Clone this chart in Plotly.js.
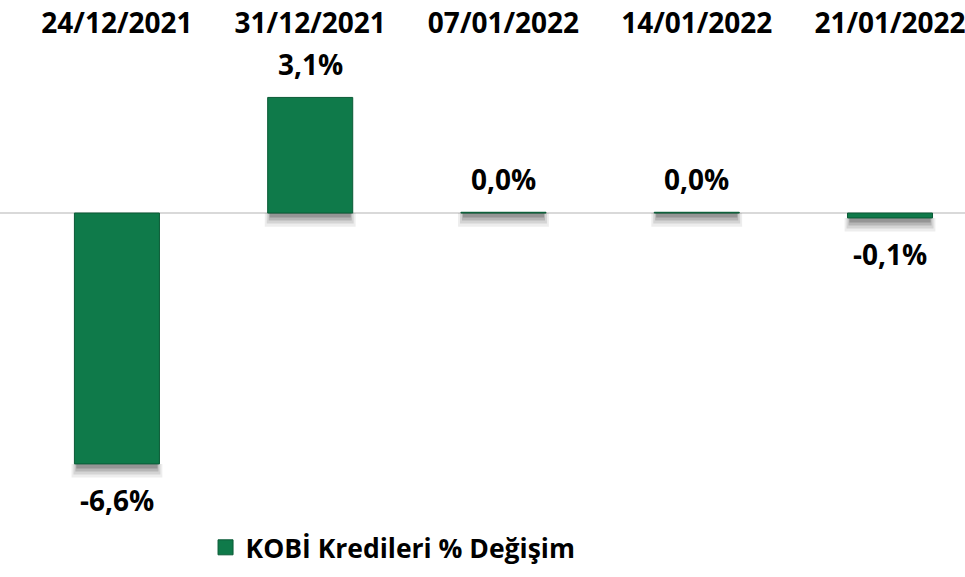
<!DOCTYPE html>
<html>
<head>
<meta charset="utf-8">
<script src="https://cdn.plot.ly/plotly-3.0.1.min.js"></script>
<style>
html,body{margin:0;padding:0;background:#fff;}
#chart{width:965px;height:577px;}
</style>
</head>
<body>
<div id="chart"></div>
<script>
const categories = ['24/12/2021', '31/12/2021', '07/01/2022', '14/01/2022', '21/01/2022'];
const values = [-6.64, 3.06, 0.02, 0.02, -0.13];
const seriesName = 'KOBİ Kredileri % Değişim';

const labels = values.map(v => v.toFixed(1).replace('.', ',') + '%');
const FONT = 'Open Sans, Noto Sans, sans-serif';
const BAR_W = 0.44;
const GREEN = '#0F7A4A';
const GREEN_EDGE = '#0A5A36';

// soft drop shadow under each bar, built from the same values (style only)
const shadowLayers = [
  {depth: 0.36, width: 0.47, opacity: 0.07},
  {depth: 0.28, width: 0.45, opacity: 0.10},
  {depth: 0.20, width: 0.43, opacity: 0.14},
  {depth: 0.12, width: 0.42, opacity: 0.18}
];
const shadowTraces = shadowLayers.map(s => ({
  type: 'bar',
  x: categories,
  base: values.map(v => Math.min(v, 0)),
  y: values.map(() => -s.depth),
  width: s.width,
  marker: {color: '#000', opacity: s.opacity, line: {width: 0}},
  hoverinfo: 'skip',
  showlegend: false
}));

const mainTrace = {
  type: 'bar',
  x: categories,
  y: values,
  width: BAR_W,
  name: seriesName,
  marker: {color: GREEN, line: {color: GREEN_EDGE, width: 1}},
  hoverinfo: 'skip',
  showlegend: false
};

// legend entry only (no data drawn)
const legendTrace = {
  type: 'scatter', mode: 'markers',
  x: [null], y: [null],
  name: seriesName,
  marker: {symbol: 'square', size: 15, color: GREEN, line: {color: GREEN_EDGE, width: 1}},
  hoverinfo: 'skip',
  showlegend: true
};

const annotations = categories.map((c, i) => ({
  x: c, y: values[i], xref: 'x', yref: 'y',
  text: labels[i], showarrow: false,
  yanchor: 'middle',
  yshift: values[i] < 0 ? -36 : 33,
  font: {family: FONT, size: 28, color: '#000', weight: 700}
}));

const layout = {
  width: 965, height: 577,
  margin: {l: 0, r: 0, t: 40, b: 67, pad: 0},
  paper_bgcolor: '#fff', plot_bgcolor: '#fff',
  barmode: 'overlay',
  xaxis: {
    type: 'category', side: 'top',
    range: [-0.605, 4.388],
    showgrid: false, showline: false, zeroline: false, ticks: '',
    tickfont: {family: FONT, size: 28, color: '#000', weight: 700},
    fixedrange: true
  },
  yaxis: {
    range: [-7.86, 4.58],
    showgrid: false, showticklabels: false, ticks: '', showline: false,
    zeroline: true, zerolinecolor: '#D9D9D9', zerolinewidth: 1.5,
    fixedrange: true
  },
  showlegend: true,
  legend: {
    orientation: 'h', x: 0.213, xanchor: 'left', y: -0.08, yanchor: 'middle',
    font: {family: FONT, size: 26.5, color: '#000', weight: 700},
    itemwidth: 30,
    bgcolor: 'rgba(0,0,0,0)'
  },
  annotations: annotations
};

Plotly.newPlot('chart', [...shadowTraces, mainTrace, legendTrace], layout, {displayModeBar: false, staticPlot: true});
</script>
</body>
</html>
